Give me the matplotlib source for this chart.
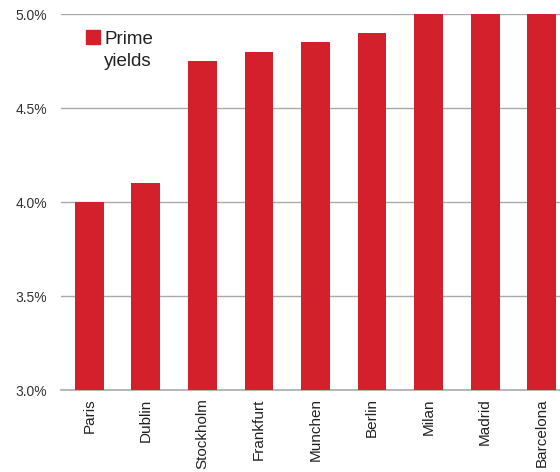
import matplotlib
matplotlib.use("Agg")
import matplotlib.pyplot as plt
from matplotlib.patches import Rectangle

cities = ["Paris", "Dublin", "Stockholm", "Frankfurt", "Munchen",
          "Berlin", "Milan", "Madrid", "Barcelona"]
yields = [4.00, 4.10, 4.75, 4.80, 4.85, 4.90, 5.00, 5.00, 5.00]
yticks = [3.0, 3.5, 4.0, 4.5, 5.0]
series_label = ["Prime", "yields"]
bar_color = "#d3202a"

plt.rcParams["font.family"] = ["Liberation Sans", "DejaVu Sans"]

W, H = 560, 472
fig = plt.figure(figsize=(W / 100, H / 100), dpi=100)
ax = fig.add_axes([61 / W, 82 / H, 509 / W, 376 / H])

x = list(range(len(cities)))
ax.bar(x, yields, width=0.51, color=bar_color, zorder=3)

ax.set_xlim(-0.5, len(cities) - 0.5)
ax.set_ylim(3.0, 5.0)
ax.set_yticks(yticks)
ax.set_yticklabels([f"{v:.1f}%" for v in yticks], fontsize=10, color="#333333")
ax.set_xticks(x)
ax.set_xticklabels(cities, rotation=90, fontsize=11, color="#222222")
ax.tick_params(axis="both", length=0)
ax.tick_params(axis="y", pad=10)
ax.tick_params(axis="x", pad=6)

ax.grid(axis="y", color="#aaaaaa", linewidth=1, zorder=0)
for side in ["left", "right", "top"]:
    ax.spines[side].set_visible(False)
ax.spines["bottom"].set_color("#aaaaaa")
ax.spines["bottom"].set_linewidth(1.2)

# legend: square key aligned with the first line of the label
fig.patches.append(Rectangle((86 / W, 1 - 44 / H), 14 / W, 14 / H,
                             transform=fig.transFigure, color=bar_color))
for i, line in enumerate(series_label):
    fig.text(104 / W, 1 - (44 + 22 * i) / H, line, fontsize=13.5,
             va="baseline", ha="left", color="#222222")

fig.savefig("out.png", dpi=100)
